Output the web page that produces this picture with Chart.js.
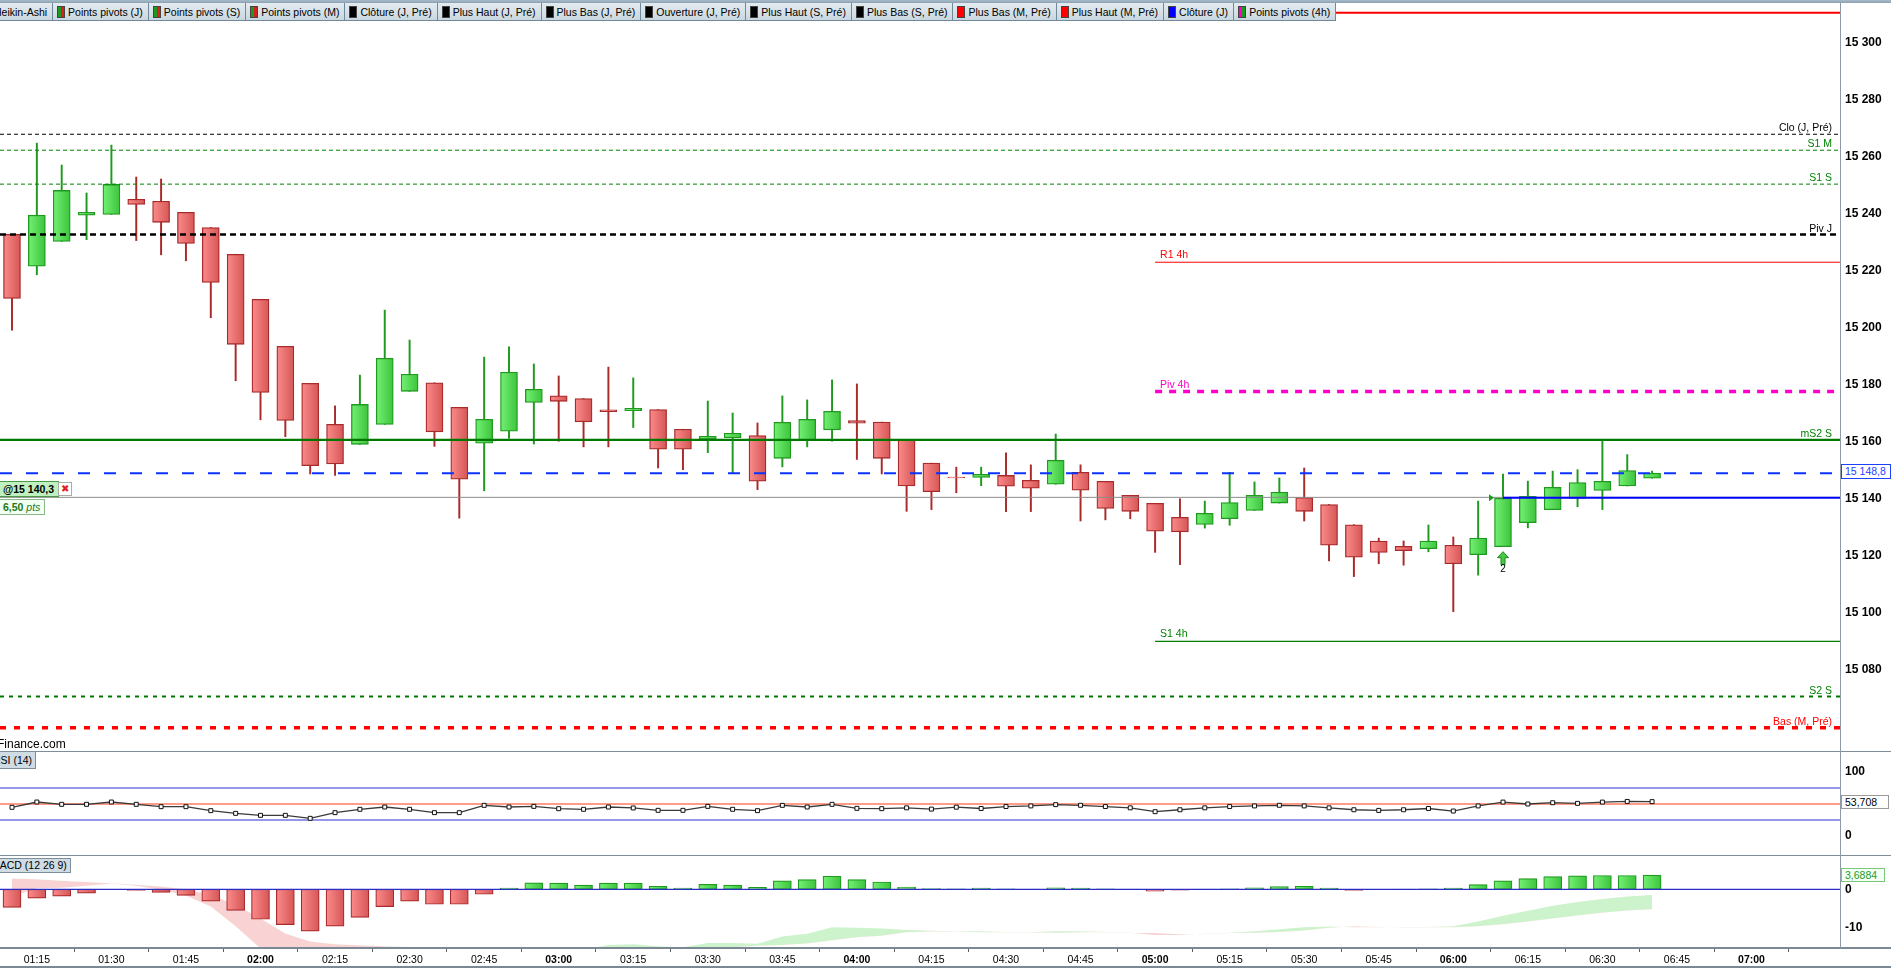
<!DOCTYPE html>
<html lang="fr">
<head>
<meta charset="utf-8">
<title>Heikin-Ashi 5 min</title>
<script src="https://cdn.jsdelivr.net/npm/chart.js@4.4.1/dist/chart.umd.min.js"></script>
<style>
  html, body { margin: 0; padding: 0; }
  body { width: 1891px; height: 968px; overflow: hidden; position: relative; background: #fff;
         font-family: "Liberation Sans", Arial, sans-serif; }
  .pane { position: absolute; left: 0; width: 1891px; }
  .pane canvas { display: block; }
  .hline { position: absolute; left: 0; width: 1891px; background: #7d8d9a; }
  #toolbar { position: absolute; top: 3px; left: 0; height: 18px; display: flex; overflow: hidden; }
  .btn { display: flex; align-items: center; height: 17px; padding: 0 5px 0 4px; border-right: 1px solid #71879a;
         border-bottom: 1px solid #71879a; background: linear-gradient(#e3ebf0, #cad7df); font-size: 10.5px; white-space: nowrap; }
  .ico { width: 8px; height: 12px; margin-right: 3px; display: flex; border: 1px solid #444; box-sizing: border-box; }
  .ico span { flex: 1; }
  .tag { position: absolute; font-size: 10.5px; white-space: nowrap; box-sizing: border-box; }
</style>
</head>
<body>
<div class="pane" style="top:0;height:752px"><canvas id="mainChart" width="1891" height="752"></canvas></div>
<div class="pane" style="top:752px;height:104px"><canvas id="rsiChart" width="1891" height="104"></canvas></div>
<div class="pane" style="top:856px;height:112px"><canvas id="macdChart" width="1891" height="112"></canvas></div>

<div class="hline" style="top:0;height:3px;background:linear-gradient(#a9bccb,#8aa0b1)"></div>
<div id="toolbar"></div>
<div class="hline" style="top:751px;height:1px"></div>
<div class="hline" style="top:855px;height:1px"></div>
<div class="hline" style="top:947px;height:2px;background:#7b8995"></div>
<div class="hline" style="top:966px;height:2px;background:#7b8995"></div>
<div style="position:absolute;left:1840px;top:3px;width:1px;height:945px;background:#8c9ba7"></div>

<div class="tag" style="left:-3px;top:737px;font-size:12px">Finance.com</div>
<div class="tag" style="left:-8px;top:752px;height:17px;line-height:16px;padding:0 3px 0 0;background:#cfdce4;border:1px solid #7d8d9a;border-top:none">RSI (14)</div>
<div class="tag" style="left:-10px;top:858px;height:15px;line-height:13px;padding:0 3px 0 0;background:#cfdce4;border:1px solid #7d8d9a">MACD (12 26 9)</div>

<div class="tag" style="left:-2px;top:481px;height:16px;line-height:14px;padding:0 4px;background:#bff0bf;border:1px solid #4a9a4a;font-weight:bold">@15 140,3</div>
<div class="tag" style="left:58px;top:482px;width:14px;height:14px;line-height:12px;text-align:center;color:#e02020;font-size:10px;background:#fff;border:1px solid #aaa">✖</div>
<div class="tag" style="left:-2px;top:499px;height:16px;line-height:14px;padding:0 4px;color:#1a7a1a;background:#f4fff4;border:1px solid #8ab88a"><b>6,50</b> <i>pts</i></div>

<div class="tag" style="left:1841px;top:464px;width:50px;height:15px;line-height:13px;padding-left:3px;color:#1f3fff;background:#fff;border:1px solid #1f3fff">15 148,8</div>
<div class="tag" style="left:1841px;top:795px;width:48px;height:14px;line-height:12px;padding-left:3px;color:#000;background:#fff;border:1px solid #9a9a9a">53,708</div>
<div class="tag" style="left:1841px;top:868px;width:44px;height:14px;line-height:12px;padding-left:3px;color:#2a9a2a;background:#f2fff2;border:1px solid #7ac87a">3,6884</div>

<script>
// 5-minute Heikin-Ashi bars
const times = [
  '01:10','01:15','01:20','01:25','01:30','01:35','01:40','01:45','01:50','01:55',
  '02:00','02:05','02:10','02:15','02:20','02:25','02:30','02:35','02:40','02:45','02:50','02:55',
  '03:00','03:05','03:10','03:15','03:20','03:25','03:30','03:35','03:40','03:45','03:50','03:55',
  '04:00','04:05','04:10','04:15','04:20','04:25','04:30','04:35','04:40','04:45','04:50','04:55',
  '05:00','05:05','05:10','05:15','05:20','05:25','05:30','05:35','05:40','05:45','05:50','05:55',
  '06:00','06:05','06:10','06:15','06:20','06:25','06:30','06:35','06:40'
];
const open = [
  15232.6, 15221.4, 15230.1, 15239.3, 15239.6, 15244.9, 15244.2, 15240.3, 15235.0, 15225.6,
  15209.8, 15193.3, 15180.3, 15165.9, 15158.9, 15165.9, 15177.5, 15180.5, 15171.9, 15159.3,
  15163.5, 15173.6, 15175.9, 15175.0, 15171.0, 15170.7, 15171.1, 15164.2, 15160.7, 15161.2,
  15162.0, 15154.0, 15160.3, 15164.0, 15167.2, 15166.7, 15160.4, 15152.3, 15147.4, 15147.3,
  15148.0, 15146.3, 15144.9, 15149.1, 15145.9, 15141.0, 15138.2, 15133.3, 15130.8, 15132.8,
  15135.7, 15138.3, 15140.2, 15137.8, 15130.7, 15125.0, 15123.1, 15122.3, 15123.5, 15120.2,
  15123.0, 15131.4, 15136.0, 15139.9, 15142.7, 15144.3, 15147.0
];
const high = [
  15232.6, 15264.6, 15256.9, 15247.1, 15263.9, 15252.7, 15252.0, 15240.3, 15235.0, 15225.6,
  15209.8, 15193.3, 15180.3, 15172.4, 15183.2, 15206.0, 15195.5, 15180.5, 15171.9, 15189.5,
  15193.1, 15187.1, 15182.9, 15175.0, 15186.0, 15182.2, 15171.1, 15164.2, 15174.1, 15169.9,
  15166.4, 15175.9, 15174.5, 15181.5, 15180.1, 15166.7, 15160.4, 15152.3, 15150.9, 15150.9,
  15155.9, 15151.7, 15162.5, 15151.7, 15145.9, 15141.0, 15138.2, 15139.8, 15139.0, 15149.1,
  15145.7, 15147.1, 15150.6, 15137.8, 15130.7, 15126.0, 15125.0, 15130.6, 15126.4, 15139.0,
  15148.5, 15146.0, 15149.5, 15150.0, 15160.3, 15155.3, 15149.5
];
const low = [
  15199.0, 15218.4, 15230.1, 15230.7, 15239.6, 15230.4, 15225.4, 15223.3, 15203.3, 15181.2,
  15167.5, 15161.6, 15148.5, 15148.0, 15158.9, 15165.9, 15177.5, 15158.2, 15133.0, 15142.6,
  15161.0, 15159.0, 15160.0, 15158.0, 15158.0, 15164.8, 15150.6, 15150.0, 15156.0, 15149.0,
  15143.0, 15151.0, 15158.0, 15160.0, 15153.6, 15148.5, 15135.4, 15136.0, 15141.9, 15144.4,
  15135.3, 15135.3, 15144.9, 15132.0, 15132.4, 15132.8, 15121.0, 15116.7, 15129.5, 15130.5,
  15135.7, 15138.3, 15132.0, 15118.0, 15112.5, 15117.0, 15116.5, 15121.2, 15100.2, 15113.0,
  15123.0, 15129.6, 15136.0, 15137.0, 15136.0, 15144.3, 15147.0
];
const close = [
  15210.1, 15239.3, 15248.0, 15240.3, 15250.1, 15243.1, 15236.8, 15229.4, 15215.7, 15194.0,
  15177.1, 15167.3, 15151.4, 15152.0, 15172.9, 15189.1, 15183.5, 15163.3, 15146.7, 15167.7,
  15184.2, 15178.2, 15174.0, 15166.8, 15170.4, 15171.5, 15157.2, 15157.2, 15161.7, 15162.8,
  15146.0, 15166.6, 15167.7, 15170.5, 15166.3, 15154.0, 15144.3, 15142.3, 15147.1, 15148.4,
  15144.2, 15143.5, 15153.3, 15142.8, 15136.4, 15135.4, 15128.4, 15128.2, 15134.7, 15138.5,
  15141.0, 15142.1, 15135.4, 15123.5, 15119.3, 15121.0, 15121.6, 15125.0, 15117.0, 15126.0,
  15140.0, 15140.7, 15143.8, 15145.5, 15145.9, 15149.7, 15148.8
];
const rsi = [
  44.8, 53.1, 49.5, 49.5, 53.1, 49.5, 45.8, 45.8, 39.6, 35.4,
  32.3, 32.3, 27.6, 36.5, 41.7, 45.3, 41.7, 36.5, 36.5, 47.9,
  45.3, 46.3, 42.7, 41.7, 45.3, 43.8, 40.1, 40.1, 46.3, 41.7,
  39.6, 47.9, 45.3, 49.5, 43.2, 42.7, 44, 42, 45, 43,
  46, 47, 49, 48, 46, 44, 38, 41, 44, 46,
  47, 48, 47, 44, 41, 40, 41, 43, 39, 47,
  53, 50, 52, 51, 53, 54, 53.708
];
const macdHist = [
  -4.7, -2.3, -1.8, -1.0, -0.1, -0.3, -0.8, -1.6, -3.1, -5.5,
  -7.8, -9.2, -10.9, -9.6, -7.3, -4.5, -3.1, -3.9, -3.9, -1.3,
  0.3, 1.7, 1.6, 1.1, 1.6, 1.6, 0.8, 0.3, 1.3, 1.1,
  0.5, 2.2, 2.5, 3.4, 2.5, 1.9, 0.6, 0.2, 0.1, 0.3,
  0.1, 0.05, 0.4, 0.3, 0.1, 0.05, -0.5, -0.2, 0.05, 0.1,
  0.4, 0.7, 0.8, 0.3, -0.3, -0.1, 0.05, 0.1, 0.3, 1.2,
  2.2, 2.8, 3.3, 3.5, 3.6, 3.6, 3.6884
];
const macdLine = [
  -1.9, 0.3, 0.4, 0.9, 1.5, 0.9, -0.1, -1.6, -4.5, -9.6,
  -15.4, -20.7, -24.5, -23.9, -21.9, -19.3, -18.1, -19.2, -19.9, -17.8,
  -16.3, -15.1, -15.4, -15.8, -14.5, -14.3, -14.8, -15.1, -14.0, -14.0,
  -14.2, -12.3, -11.6, -9.9, -10.0, -10.2, -10.6, -10.8, -10.9, -10.9,
  -11.1, -11.2, -10.9, -10.9, -11.1, -11.3, -11.9, -11.9, -11.6, -11.3,
  -10.9, -10.4, -9.9, -9.7, -9.9, -9.9, -9.9, -9.8, -9.6, -8.4,
  -6.9, -5.6, -4.3, -3.3, -2.5, -1.9, -1.5
];
const signalLine = [
  2.8, 2.6, 2.2, 1.9, 1.6, 1.2, 0.7, 0.0, -1.4, -4.1,
  -7.6, -11.5, -13.6, -14.3, -14.6, -14.8, -15.0, -15.3, -16.0, -16.5,
  -16.6, -16.8, -17.0, -16.9, -16.1, -15.9, -15.6, -15.4, -15.3, -15.1,
  -14.7, -14.5, -14.1, -13.3, -12.5, -12.1, -11.2, -11.0, -11.0, -11.2,
  -11.2, -11.25, -11.3, -11.2, -11.2, -11.35, -11.4, -11.7, -11.65, -11.4,
  -11.3, -11.1, -10.7, -10.0, -9.6, -9.8, -9.95, -9.9, -9.9, -9.6,
  -9.1, -8.4, -7.6, -6.8, -6.1, -5.5, -5.2
];

const priceTicks = [15080, 15100, 15120, 15140, 15160, 15180, 15200, 15220, 15240, 15260, 15280, 15300];
const xTickLabels = ['01:15','01:30','01:45','02:00','02:15','02:30','02:45','03:00','03:15','03:30','03:45','04:00',
                     '04:15','04:30','04:45','05:00','05:15','05:30','05:45','06:00','06:15','06:30','06:45','07:00'];
const rsiTicks = [0, 100];
const rsiBands = [75, 25];
const rsiMid = 50;
const macdTicks = [-10, 0];

const levelNames = ['Plus Haut (M, Pré)', 'Clo (J, Pré)', 'S1 M', 'S1 S', 'Piv J', 'mS2 S', 'S2 S', 'Bas (M, Pré)'];
const levelValues = [15310.3, 15267.7, 15262.1, 15250.2, 15232.5, 15160.5, 15070.4, 15059.5];
const pivot4hNames = ['R1 4h', 'Piv 4h', 'S1 4h'];
const pivot4hValues = [15222.8, 15177.4, 15089.8];
const pivot4hFrom = '05:00';
const lastPrice = 15148.8;
const orderPrice = 15140.3;
const dayClose = 15140.2;
const dayCloseFrom = '06:10';
const signalBar = '06:10';

const legendItems = [
  ['Heikin-Ashi', []],
  ['Points pivots (J)', ['#1c9a1c', '#d42020']],
  ['Points pivots (S)', ['#1c9a1c', '#d42020']],
  ['Points pivots (M)', ['#1c9a1c', '#d42020']],
  ['Clôture (J, Pré)', ['#000']],
  ['Plus Haut (J, Pré)', ['#000']],
  ['Plus Bas (J, Pré)', ['#000']],
  ['Ouverture (J, Pré)', ['#000']],
  ['Plus Haut (S, Pré)', ['#000']],
  ['Plus Bas (S, Pré)', ['#000']],
  ['Plus Bas (M, Pré)', ['#ff0000']],
  ['Plus Haut (M, Pré)', ['#ff0000']],
  ['Clôture (J)', ['#0000ff']],
  ['Points pivots (4h)', ['#ff00cc', '#1c9a1c']]
];

// styles
const FONT = '"Liberation Sans", Arial, sans-serif';
const lineStyle = {
  'Plus Haut (M, Pré)': ['#ff0000', 2, []],
  'Clo (J, Pré)': ['#000000', 1, [4, 3]],
  'S1 M': ['#008000', 1, [4, 3]],
  'S1 S': ['#008000', 1, [4, 3]],
  'Piv J': ['#000000', 2.5, [6, 4]],
  'mS2 S': ['#007800', 2.2, []],
  'S2 S': ['#007800', 2, [4, 5]],
  'Bas (M, Pré)': ['#ff0000', 3.5, [6, 8]],
  'R1 4h': ['#ff0000', 1, []],
  'Piv 4h': ['#ff00cc', 3.5, [7, 7]],
  'S1 4h': ['#008000', 1.2, []]
};
const labelColor = {
  'Clo (J, Pré)': '#000', 'S1 M': '#008000', 'S1 S': '#008000', 'Piv J': '#000', 'mS2 S': '#008000',
  'S2 S': '#008000', 'Bas (M, Pré)': '#ff0000', 'R1 4h': '#ff0000', 'Piv 4h': '#ff00cc', 'S1 4h': '#008000'
};
const UP = { a: '#74f074', b: '#3cc43c', edge: '#1f9a1f' };
const DN = { a: '#fb8b8b', b: '#d65656', edge: '#a82a2a' };

// x range so that 01:10 sits 12px from the left and 5 min = 24.85px
const X_MIN = 67.586, X_MAX = 437.807;

const toMin = s => { const p = s.split(':').map(Number); return p[0] * 60 + p[1]; };
const mins = times.map(toMin);
const isUp = i => close[i] >= open[i];
const thousands = v => String(v).replace(/\B(?=(\d{3})+(?!\d))/g, ' ');

// toolbar
const bar = document.getElementById('toolbar');
legendItems.forEach(([text, cols], i) => {
  const b = document.createElement('div');
  b.className = 'btn';
  if (i === 0) b.style.marginLeft = '-10px';
  if (cols.length) {
    const ic = document.createElement('div');
    ic.className = 'ico';
    cols.forEach(c => { const s = document.createElement('span'); s.style.background = c; ic.appendChild(s); });
    b.appendChild(ic);
  }
  b.appendChild(document.createTextNode(text));
  bar.appendChild(b);
});

Chart.defaults.font.family = FONT;
Chart.defaults.animation = false;
Chart.defaults.events = [];
Chart.defaults.plugins.legend.display = false;
Chart.defaults.plugins.tooltip.enabled = false;

function barFill(c, w, up) {
  const col = up ? UP : DN;
  const xs = c.chart.scales.x;
  if (c.dataIndex === undefined || !xs) return col.b;
  const px = xs.getPixelForValue(mins[c.dataIndex]);
  if (!isFinite(px)) return col.b;
  const g = c.chart.ctx.createLinearGradient(px - w / 2, 0, px + w / 2, 0);
  g.addColorStop(0, col.a);
  g.addColorStop(1, col.b);
  return g;
}

function flatLine(value, from, style, order) {
  return {
    type: 'line', data: [{ x: from, y: value }, { x: X_MAX, y: value }],
    borderColor: style[0], borderWidth: style[1], borderDash: style[2],
    pointRadius: 0, fill: false, tension: 0, order: order
  };
}

function hiddenX() {
  return { type: 'linear', min: X_MIN, max: X_MAX, offset: false, display: false };
}

function rightY(min, max, tickValues, fmt) {
  return {
    type: 'linear', position: 'right', min: min, max: max,
    afterBuildTicks: a => { a.ticks = tickValues.map(v => ({ value: v })); },
    // fixed axis width, and no extra room reserved for the end labels
    afterFit: a => { a.width = 51; a.paddingTop = 0; a.paddingBottom = 0; },
    grid: { display: false, drawTicks: false },
    border: { display: false },
    ticks: { padding: 5, color: '#000', font: { size: 12, weight: 'bold' }, callback: fmt }
  };
}

const noPad = { padding: 0, autoPadding: false };

// main price pane
const mainSets = [
  {
    type: 'bar', data: mins.map((m, i) => ({ x: m, y: [low[i], high[i]] })),
    grouped: false, barThickness: 1.3, borderWidth: 0,
    backgroundColor: c => (isUp(c.dataIndex) ? UP : DN).edge, order: 3
  },
  {
    type: 'bar', data: mins.map((m, i) => ({ x: m, y: [open[i], close[i]] })),
    grouped: false, barThickness: 17, borderWidth: 1.3, borderSkipped: false,
    borderColor: c => (isUp(c.dataIndex) ? UP : DN).edge,
    backgroundColor: c => barFill(c, 17, isUp(c.dataIndex)), order: 2
  }
];
levelNames.forEach((n, i) => mainSets.push(flatLine(levelValues[i], X_MIN, lineStyle[n], 1)));
pivot4hNames.forEach((n, i) => mainSets.push(flatLine(pivot4hValues[i], toMin(pivot4hFrom), lineStyle[n], 1)));
mainSets.push(flatLine(orderPrice, X_MIN, ['#8c8c8c', 1, []], 1));
mainSets.push(flatLine(lastPrice, X_MIN, ['#0a32ff', 2, [12, 14]], 0));
mainSets.push(flatLine(dayClose, toMin(dayCloseFrom), ['#0000ff', 2, []], 0));

const mainLabels = {
  id: 'mainLabels',
  afterDatasetsDraw(chart) {
    const { ctx, chartArea, scales: { x, y } } = chart;
    ctx.save();
    ctx.font = '10.5px ' + FONT;
    ctx.textBaseline = 'alphabetic';
    ctx.textAlign = 'right';
    levelNames.forEach((n, i) => {
      if (!labelColor[n]) return;
      ctx.fillStyle = labelColor[n];
      ctx.fillText(n, chartArea.right - 8, y.getPixelForValue(levelValues[i]) - 3);
    });
    ctx.textAlign = 'left';
    const x4 = x.getPixelForValue(toMin(pivot4hFrom));
    pivot4hNames.forEach((n, i) => {
      ctx.fillStyle = labelColor[n];
      ctx.fillText(n, x4 + 5, y.getPixelForValue(pivot4hValues[i]) - 4);
    });
    // buy signal arrow below the bar
    const k = times.indexOf(signalBar);
    const ax = x.getPixelForValue(mins[k]);
    const ay = y.getPixelForValue(low[k]) + 5;
    ctx.beginPath();
    ctx.moveTo(ax, ay); ctx.lineTo(ax + 5.5, ay + 6); ctx.lineTo(ax + 2, ay + 6); ctx.lineTo(ax + 2, ay + 13);
    ctx.lineTo(ax - 2, ay + 13); ctx.lineTo(ax - 2, ay + 6); ctx.lineTo(ax - 5.5, ay + 6); ctx.closePath();
    ctx.fillStyle = '#46c846'; ctx.fill();
    ctx.strokeStyle = '#1a8a1a'; ctx.lineWidth = 1; ctx.stroke();
    ctx.fillStyle = '#000'; ctx.textAlign = 'center'; ctx.font = '10px ' + FONT;
    ctx.fillText('2', ax, ay + 20);
    // start marker of the day close line
    const ty = y.getPixelForValue(dayClose);
    ctx.beginPath();
    ctx.moveTo(ax - 14, ty - 3.5); ctx.lineTo(ax - 9, ty); ctx.lineTo(ax - 14, ty + 3.5); ctx.closePath();
    ctx.fillStyle = '#1f9a1f'; ctx.fill();
    ctx.restore();
  }
};

new Chart(document.getElementById('mainChart'), {
  type: 'bar',
  data: { datasets: mainSets },
  options: {
    responsive: false,
    layout: noPad,
    scales: { x: hiddenX(), y: rightY(15050.95, 15314.81, priceTicks, v => thousands(v)) }
  },
  plugins: [mainLabels]
});

// RSI pane
new Chart(document.getElementById('rsiChart'), {
  type: 'line',
  data: {
    datasets: [
      {
        data: mins.map((m, i) => ({ x: m, y: rsi[i] })), borderColor: '#3a3a3a', borderWidth: 1.3, tension: 0,
        pointStyle: 'rect', pointRadius: 2.8, pointBackgroundColor: '#fff', pointBorderColor: '#111', pointBorderWidth: 1,
        order: 0
      },
      flatLine(rsiBands[0], X_MIN, ['#3030d0', 1.2, []], 1),
      flatLine(rsiBands[1], X_MIN, ['#3030d0', 1.2, []], 1),
      flatLine(rsiMid, X_MIN, ['#ff3a10', 1.2, []], 1)
    ]
  },
  options: {
    responsive: false,
    layout: noPad,
    scales: { x: hiddenX(), y: rightY(-31.25, 131.25, rsiTicks, v => String(v)) }
  }
});

// MACD pane with time axis
const timeAxis = {
  type: 'linear', min: X_MIN, max: X_MAX, offset: false, position: 'bottom',
  afterBuildTicks: a => { a.ticks = xTickLabels.map(l => ({ value: toMin(l) })); },
  afterFit: a => { a.height = 20; a.paddingLeft = 0; a.paddingRight = 0; },
  grid: { display: true, drawOnChartArea: false, drawTicks: true, tickLength: 4, color: '#55606a', lineWidth: 1 },
  border: { display: false },
  ticks: {
    autoSkip: false, maxRotation: 0, minRotation: 0, padding: 2, color: '#000',
    font: c => ({ size: 10.5, weight: (c.tick && c.tick.value % 60 === 0) ? 'bold' : 'normal' }),
    callback: v => xTickLabels[xTickLabels.map(toMin).indexOf(v)]
  }
};

new Chart(document.getElementById('macdChart'), {
  type: 'bar',
  data: {
    datasets: [
      {
        type: 'line', data: mins.map((m, i) => ({ x: m, y: macdLine[i] })),
        borderColor: 'rgba(0,0,0,0)', borderWidth: 1, pointRadius: 0, tension: 0,
        fill: { target: '+1', above: 'rgba(110,220,110,0.35)', below: 'rgba(238,140,140,0.38)' }, order: 3
      },
      {
        type: 'line', data: mins.map((m, i) => ({ x: m, y: signalLine[i] })),
        borderColor: 'rgba(0,0,0,0)', borderWidth: 1, pointRadius: 0, tension: 0, fill: false, order: 3
      },
      {
        type: 'bar', data: mins.map((m, i) => ({ x: m, y: macdHist[i] })),
        grouped: false, barThickness: 18, borderWidth: 1.2, borderSkipped: false,
        borderColor: c => (macdHist[c.dataIndex] >= 0 ? UP : DN).edge,
        backgroundColor: c => barFill(c, 18, macdHist[c.dataIndex] >= 0), order: 2
      },
      flatLine(0, X_MIN, ['#2c2cc8', 1.3, []], 1)
    ]
  },
  options: {
    responsive: false,
    layout: noPad,
    scales: { x: timeAxis, y: rightY(-15.286, 8.672, macdTicks, v => String(v)) }
  }
});
</script>
</body>
</html>
